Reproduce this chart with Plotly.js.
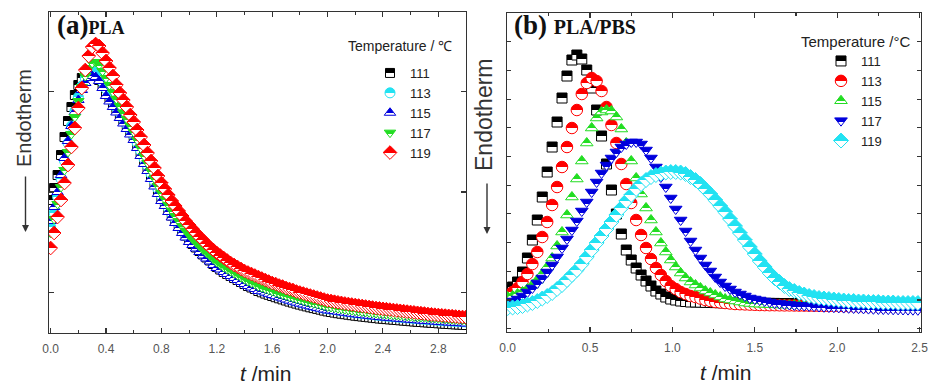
<!DOCTYPE html>
<html><head><meta charset="utf-8">
<script src="https://cdn.plot.ly/plotly-3.0.1.min.js"></script>
<style>html,body{margin:0;padding:0;background:#fff;} #chart{width:930px;height:387px;}</style>
</head><body><div id="chart"></div>
<script>
// ---------------- DATA ----------------
const temps = ['111', '113', '115', '117', '119'];
// sampling interval (min) of each panel
const dtA = 0.025;
const dtB = 0.03;

// Panel (a) PLA — heat flow (arbitrary units, endotherm down)
const a111 = [133,145,158,178,196,212,226,238,248,255,260,262,261,258,253,247,240,
234.5,229,223.5,218,212.5,207,201.5,196,
188,180,172,165,157,149.5,142,135,
129,123,117.5,112,107,102,97.5,93,
89,85.5,82,78.5,75.5,72.5,69,66,
63.5,61,59,57,55,53,51,49,47,45.5,44,42,
40.7,39.4,38.2,37,35.8,34.7,33.6,32.5,31.4,30.4,29.4,28.4,27.5,26.6,25.7,24.9,24.1,23.3,22.4,21.6,
21,20.4,19.8,19.3,18.8,18.3,17.8,17.3,16.9,16.5,16.1,15.7,15.3,14.9,14.5,14.2,13.9,13.6,13.3,13,
12.7,12.4,12.1,11.8,11.5,11.2,11,10.7,10.5,10.2,10,9.7,9.5,9.2,9,8.8,8.6,8.4,8.2,8];
const a113 = [106,120,136,154,172,190,207,222,236,247,255,260,262,261,257,251,244,
237.5,231.5,225.5,220,214,208.5,203,197.5,
190,182,174,167,159,151.5,144,137,
131,125,119.5,114,109,104,99.5,95,
91,87.5,84,80.5,77.5,74.5,71,68,
65.5,63,61,59,57,55,53,51,49,47.5,46,44,
43.2,41.9,40.7,39.5,38.3,37.2,36.1,35,33.9,32.9,31.9,30.9,30,29.1,28.2,27.4,26.6,25.8,24.9,24.1,
24,23.4,22.8,22.3,21.8,21.3,20.8,20.3,19.9,19.5,19.1,18.7,18.3,17.9,17.5,17.2,16.9,16.6,16.3,16,
15.7,15.4,15.1,14.8,14.5,14.2,14,13.7,13.5,13.2,13,12.7,12.5,12.2,12,11.8,11.6,11.4,11.2,11];
const a115 = [112,126,141,158,175,192,207,221,233,243,250,255,257,256,252,245,237,
231.5,226,220.5,215,209.5,204,198.5,193,
185,177,169,162,154,146.5,139,132,
127,121,115.5,110,105,100,95.5,91,
88,84.5,81,77.5,74.5,71.5,68,65,
63.5,61,59,57,55,53,51,49,47,45.5,44,42,
41.7,40.4,39.2,38,36.8,35.7,34.6,33.5,32.4,31.4,30.4,29.4,28.5,27.6,26.7,25.9,25.1,24.3,23.4,22.6,
22.5,21.9,21.3,20.8,20.3,19.8,19.3,18.8,18.4,18,17.6,17.2,16.8,16.4,16,15.7,15.4,15.1,14.8,14.5,
14.2,13.9,13.6,13.3,13,12.7,12.5,12.2,12,11.7,11.5,11.2,11,10.7,10.5,10.3,10.1,9.9,9.7,9.5];
const a117 = [100,114,129,146,163,181,199,216,232,246,257,265,270,271,268,262,255,
248,241,234,227,220.5,214,207.5,201,
193,185,177,170,162,154.5,147,140,
134,128,122.5,117,112,107,102.5,98,
94,90.5,87,83.5,80.5,77.5,74,71,
68.5,66,64,62,60,58,56,54,52,50.5,49,47,
45.7,44.4,43.2,42,40.8,39.7,38.6,37.5,36.4,35.4,34.4,33.4,32.5,31.6,30.7,29.9,29.1,28.3,27.4,26.6,
26,25.4,24.8,24.3,23.8,23.3,22.8,22.3,21.9,21.5,21.1,20.7,20.3,19.9,19.5,19.2,18.9,18.6,18.3,18,
17.7,17.4,17.1,16.8,16.5,16.2,16,15.7,15.5,15.2,15,14.7,14.5,14.2,14,13.8,13.6,13.4,13.2,13];
const a119 = [85,100,116,133,150,168,186,205,225,245,263,277,286,289,287,280,272,
265,257,248,240,233,226,218,211,
203,196,188,180,172,165,157,150,
144,138,132,127,122,117,112,108,
104,100,96,93,89,86,83,80,
77.5,75,72.5,70,68,66,64,62,60.5,59,57.5,56,
54.5,53,51.5,50,49,47.5,46.5,45,44,43,41.5,40.5,39.5,38.5,37.5,36.5,35.5,34.5,33.5,32.5,
32,31.3,30.7,30.1,29.5,29,28.5,28,27.5,27,26.5,26,25.5,25,24.6,24.2,23.8,23.4,23,22.6,
22.2,21.8,21.4,21,20.6,20.2,19.8,19.4,19,18.6,18.3,18,17.7,17.4,17.1,16.8,16.5,16.2,16,15.8];

// Panel (b) PLA/PBS
const b111 = [42,45,50,60,74,92,112,135,160,185,210,234,256,272,277,273,262,244,222,196,
168,142,118,98,82,72,64,57,51,46,41,38,35,33,32,31,30.5,30,
30,29.8,29.6,29.5,29.4,29.3,29.2,29.1,
29,29,28.9,28.8,28.8,28.7,28.7,28.6,28.6,28.5,
28.5,28.4,28.4,28.3,28.3,28.2,28.2,28.1,28.1,28,
28,28,27.9,27.9,27.8,27.8,27.7,27.7,27.6,27.6,
27.5,27.5,27.4,27.4,27.3,27.3,27.2,27.2];
const b113 = [37,40,44,50,58,68,80,95,110,127,145,165,185,204,222,238,249,254,251,241,
225,207,189,168,148,129,112,97,84,73,64,57,51,46,43,40,38,36,35,33.5,
32,31,30,29.5,29,28.5,28,27.8,27.6,27.4,27.2,
27,26.9,26.8,26.8,26.7,26.6,26.6,26.5,26.4,26.4,26.3,26.2,26.2,26.1,26,26,25.9,25.8,25.8,25.7,
25.6,25.6,25.5,25.5,25.4,25.4,25.3,25.3,25.2,25.2,25.1,25.1,25];
const b115 = [35,36,38,40,43,47,52,58,65,74,86,100,117,135,153,171,189,204,214,220,
222,221,215,203,189,171,154,138,124,112,100,89,80,72,65,59,54,50,47,44,
41,39,37,35,33,32,31,30,29,28.5,28,
27.8,27.6,27.4,27.2,27,26.9,26.8,26.7,26.6,26.5,26.4,26.3,26.2,26.1,26,25.9,25.8,25.7,25.6,25.5,
25.4,25.3,25.3,25.2,25.2,25.1,25.1,25,25,25,24.9,24.9,24.8];
const b117 = [30,31,33,36,40,44,49,54,60,67,75,84,93,102,111,121,130,140,150,159,
167,174,180,185,188,190,190,188,182,174,165,155,145,134,123,112,101,91,82,74,
67,61,55,50,46,43,40,38,36,34,33,32,31,30,29,28.5,28,27.5,27,
26.7,26.4,26.1,25.8,25.5,25.2,25,24.8,24.6,24.4,24.2,24,23.8,23.6,23.4,23.2,23,22.9,22.8,22.7,
22.6,22.5,22.4,22.3,22.2];
const b119 = [24,24.5,25,26,27.5,29,31,33.5,36,39,43,47,52,57,62,68,75,82,89,96,
103,110,117,124,131,137,143,148,152,155,157,158.5,159.5,160,160,159.5,158,155,152,148,
143,138,132,126,120,113,106,99,92,85,78,71,65,59,54,50,46,43,41,39,
37.5,36,35,34,33.5,33,32.5,32,31.5,31,31,30.5,30.5,30,30,30,29.5,29.5,29.5,29,
29,29,29,29];

// ---------------- STYLE ----------------
const W = 930, H = 387;
const px = v => v / W;
const py = v => 1 - v / H;
const times = (n, dt) => Array.from({length: n}, (_, i) => +(i * dt).toFixed(4));

const BLACK = '#000000', CYAN = '#22E2F2', BLUE = '#0000DD', GREEN = '#22DD22', RED = '#FF0000';
const styleA = [
  {c: BLACK, s: 'square', z: 9},
  {c: CYAN, s: 'circle', z: 10},
  {c: BLUE, s: 'triangle-up', z: 10},
  {c: GREEN, s: 'triangle-down', z: 10},
  {c: RED, s: 'diamond', z: 10.5}
];
const styleB = [
  {c: BLACK, s: 'square', z: 10},
  {c: RED, s: 'circle', z: 11.5},
  {c: GREEN, s: 'triangle-up', z: 11},
  {c: BLUE, s: 'triangle-down', z: 11},
  {c: CYAN, s: 'diamond', z: 11.5}
];
const mk = st => ({symbol: st.s, size: st.z, color: st.c,
  line: {color: st.c, width: 1}, gradient: {type: 'vertical', color: '#ffffff'}});

const seriesA = [a111, a113, a115, a117, a119];
const seriesB = [b111, b113, b115, b117, b119];
const traces = [];
seriesA.forEach((ys, i) => traces.push({
  type: 'scatter', mode: 'markers', name: temps[i], x: times(ys.length, dtA), y: ys,
  xaxis: 'x', yaxis: 'y', legend: 'legend', marker: mk(styleA[i]), hoverinfo: 'skip'
}));
seriesB.forEach((ys, i) => traces.push({
  type: 'scatter', mode: 'markers', name: temps[i], x: times(ys.length, dtB), y: ys,
  xaxis: 'x2', yaxis: 'y2', legend: 'legend2', marker: mk(styleB[i]), hoverinfo: 'skip'
}));

const frame = {showline: true, linecolor: '#333', linewidth: 1.3, mirror: 'ticks',
  ticks: 'inside', tickcolor: '#333', tickwidth: 1.1, zeroline: false, showgrid: false,
  fixedrange: true};
const tickFont = {family: 'Liberation Sans, Arial, sans-serif', size: 12, color: '#555'};

const serif = 'Liberation Serif, Times New Roman, serif';
const sans = 'Liberation Sans, Arial, sans-serif';
const ann = (o) => Object.assign({xref: 'paper', yref: 'paper', showarrow: false}, o);

const layout = {
  width: W, height: H, margin: {l: 0, r: 0, t: 0, b: 0},
  paper_bgcolor: '#fff', plot_bgcolor: '#fff', showlegend: true,
  font: {family: sans, color: '#333'},
  xaxis: Object.assign({}, frame, {domain: [px(49), px(466)], range: [-0.012, 3.0], anchor: 'y',
    tickmode: 'linear', tick0: 0, dtick: 0.4, tickformat: '.1f', ticklen: 5, tickfont: tickFont,
    ticklabelstandoff: 4,
    minor: {ticks: 'inside', tick0: 0, dtick: 0.2, ticklen: 3, tickcolor: '#333'}}),
  yaxis: Object.assign({}, frame, {domain: [py(333), py(12)], range: [0, 321], anchor: 'x',
    tickmode: 'linear', tick0: 40.5, dtick: 100.5, ticklen: 5, showticklabels: false}),
  xaxis2: Object.assign({}, frame, {domain: [px(507), px(921)], range: [-0.004, 2.509], anchor: 'y2',
    tickmode: 'linear', tick0: 0, dtick: 0.5, tickformat: '.1f', ticklen: 5, tickfont: tickFont,
    ticklabelstandoff: 4,
    minor: {ticks: 'inside', tick0: 0, dtick: 0.25, ticklen: 3, tickcolor: '#333'}}),
  yaxis2: Object.assign({}, frame, {domain: [py(332), py(13)], range: [0, 319], anchor: 'x2',
    tickmode: 'linear', tick0: 3.3, dtick: 28.7, ticklen: 4, showticklabels: false}),
  legend: {x: px(370), y: py(58), xanchor: 'left', yanchor: 'top', bgcolor: 'rgba(0,0,0,0)',
    font: {family: sans, size: 13, color: '#222'}, tracegroupgap: 0},
  legend2: {x: px(821), y: py(46), xanchor: 'left', yanchor: 'top', bgcolor: 'rgba(0,0,0,0)',
    font: {family: sans, size: 13, color: '#222'}, tracegroupgap: 0},
  annotations: [
    ann({x: px(55), y: py(25), xanchor: 'left', yanchor: 'middle',
      text: '<b>(a)</b><span style="font-size:18px"><b>PLA</b></span>',
      font: {family: serif, size: 27, color: '#111'}}),
    ann({x: px(512), y: py(25), xanchor: 'left', yanchor: 'middle',
      text: '<b>(b)</b> <span style="font-size:20px"><b>PLA/PBS</b></span>',
      font: {family: serif, size: 27, color: '#111'}}),
    ann({x: px(399.5), y: py(46), xanchor: 'center', yanchor: 'middle',
      text: 'Temperature / ℃', font: {family: sans, size: 14, color: '#222'}}),
    ann({x: px(855.5), y: py(41), xanchor: 'center', yanchor: 'middle',
      text: 'Temperature /°C', font: {family: sans, size: 15, color: '#222'}}),
    ann({x: px(24), y: py(118), xanchor: 'center', yanchor: 'middle', textangle: -90,
      text: 'Endotherm', font: {family: sans, size: 20, color: '#333'}}),
    ann({x: px(484), y: py(114), xanchor: 'center', yanchor: 'middle', textangle: -90,
      text: 'Endotherm', font: {family: sans, size: 23, color: '#333'}}),
    ann({x: px(25.5), y: py(232), text: '', showarrow: true, ax: 0, ay: -57,
      arrowhead: 2, arrowsize: 1, arrowwidth: 1.4, arrowcolor: '#333'}),
    ann({x: px(487), y: py(234), text: '', showarrow: true, ax: 0, ay: -52,
      arrowhead: 2, arrowsize: 1, arrowwidth: 1.4, arrowcolor: '#333'}),
    ann({x: px(265), y: py(373), xanchor: 'center', yanchor: 'middle',
      text: '<i>t</i> /min', font: {family: sans, size: 21, color: '#222'}}),
    ann({x: px(725), y: py(372), xanchor: 'center', yanchor: 'middle',
      text: '<i>t</i> /min', font: {family: sans, size: 21, color: '#222'}})
  ]
};

Plotly.newPlot('chart', traces, layout, {displayModeBar: false, staticPlot: true}).then(gd => {
  // half-filled symbols: turn each marker's vertical gradient (bottom -> top) into a
  // hard split (triangles have asymmetric bounding boxes)
  gd.querySelectorAll('path').forEach(p => {
    const f = p.style.fill || p.getAttribute('fill') || '';
    const m = f.match(/url\(["']?[^#]*#([^"')]+)["']?\)/);
    if (!m) return;
    const g = document.getElementById(m[1]);
    if (!g) return;
    const d = p.getAttribute('d') || '';
    let off = '50%';
    if (/^M-/.test(d) && /L0,-/.test(d)) off = '30%';        // triangle-up
    else if (/^M-/.test(d) && /L0,[0-9]/.test(d)) off = '48%'; // triangle-down
    g.querySelectorAll('stop').forEach(s => s.setAttribute('offset', off));
  });
});
</script>
</body></html>
